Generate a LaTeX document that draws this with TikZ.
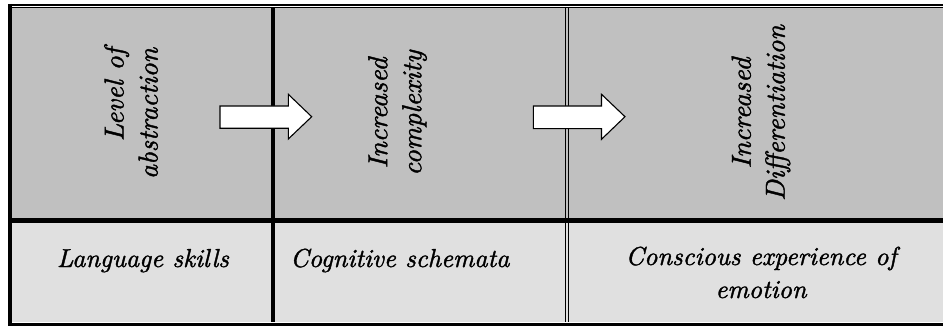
\documentclass[tikz,border=0pt]{standalone}
\usepackage{fontspec}
\setmainfont{lmroman10-regular.otf}[ItalicFont=lmroman10-italic.otf, ItalicFeatures={FakeBold=1.4}]
\definecolor{headgray}{RGB}{192,192,192}
\definecolor{rowgray}{RGB}{224,224,224}
\begin{document}
\begin{tikzpicture}[x=1pt,y=-1pt,
  rule/.style={line width=#1, draw=black},
  blockarrow/.style={draw=black, fill=white, line width=1.1pt, line join=miter},
  vlabel/.style={rotate=90, inner sep=0pt, font=\fontsize{27.5}{34}\selectfont\itshape},
  rowlabel/.style={inner sep=0pt, font=\fontsize{26}{33}\selectfont\itshape}]
  \useasboundingbox (0,0) rectangle (943,326);
  % cell backgrounds
  \fill[headgray] (12,7.7) rectangle (960,220);
  \fill[rowgray] (12,220) rectangle (960,322);
  % outer frame
  \draw[rule=2pt] (8,5) -- (960,5);
  \draw[rule=0.9pt] (12,7.3) -- (960,7.3);
  \draw[rule=4pt] (10,4) -- (10,330);
  \draw[rule=4pt] (8,324.5) -- (960,324.5);
  % inner rules
  \draw[rule=4.5pt] (12,220.5) -- (960,220.5);
  \draw[rule=4pt] (273,7.7) -- (273,322);
  \draw[rule=1.4pt] (565.7,7.7) -- (565.7,322);
  \draw[rule=1.6pt] (568.5,7.7) -- (568.5,322);
  % block arrows between the columns
  \draw[blockarrow] (220,106) -- (288.3,106) -- (288.3,94.3) -- (311.7,116.7)
    -- (288.3,139) -- (288.3,128.3) -- (220,128.3) -- cycle;
  \draw[blockarrow] (533.3,106) -- (601.5,106) -- (601.5,94.3) -- (625,116.7)
    -- (601.5,139.3) -- (601.5,128.6) -- (533.3,128.6) -- cycle;
  % column headings
  \node[vlabel, align=right] (h1) at (131,113.5) {Level of\\abstraction};
  \node[vlabel, align=center] (h2) at (397.5,113) {Increased\\complexity};
  \node[vlabel, align=center] (h3) at (761,113) {Increased\\Differentiation};
  % row labels
  \node[rowlabel, anchor=base] (r1) at (143,267) {Language skills};
  \node[rowlabel, anchor=base west] (r2) at (290,267) {Cognitive schemata};
  \node[rowlabel, anchor=base, align=center] (r3) at (761,298) {Conscious experience of\\emotion};
\end{tikzpicture}
\end{document}
